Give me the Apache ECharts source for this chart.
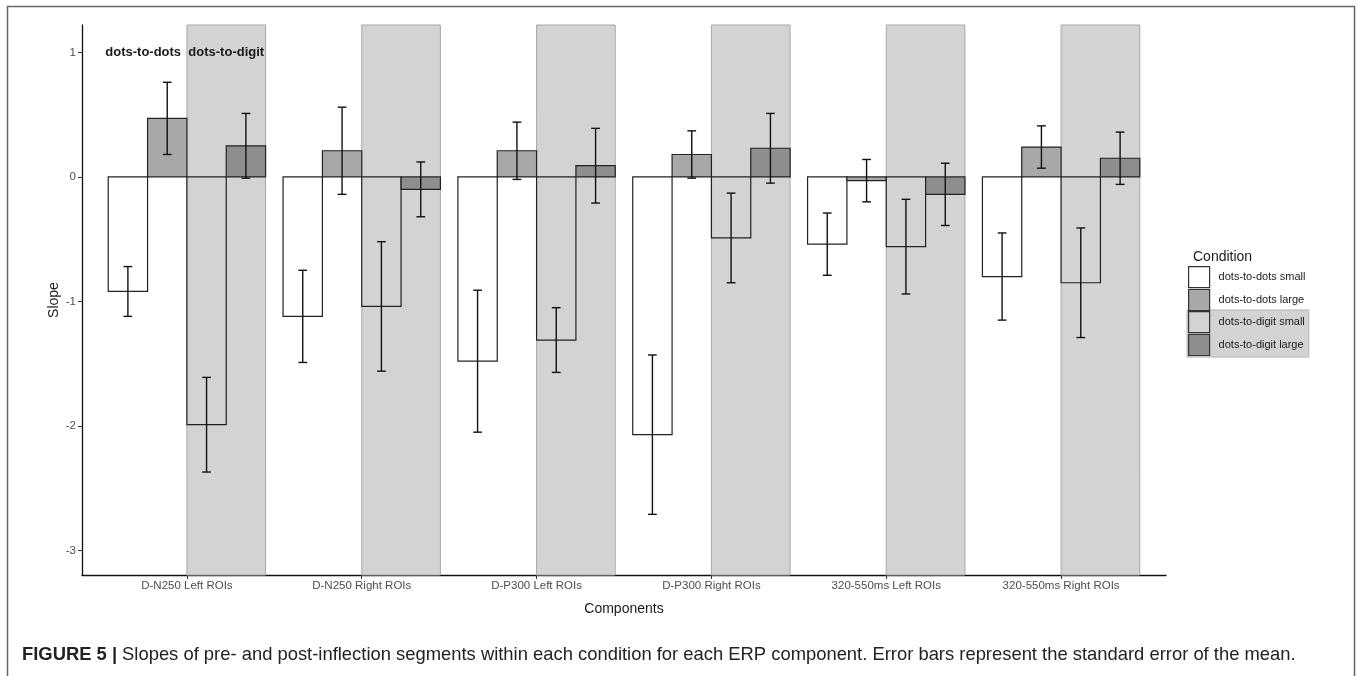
<!DOCTYPE html>
<html>
<head>
<meta charset="utf-8">
<script src="https://cdn.jsdelivr.net/npm/echarts@6/dist/echarts.min.js"></script>
<style>
html,body{margin:0;padding:0;background:#fff;}
#chart{width:1358px;height:676px;}
</style>
</head>
<body>
<div id="chart"></div>
<script>
// ---- data ----
const categories = ['D-N250 Left ROIs', 'D-N250 Right ROIs', 'D-P300 Left ROIs', 'D-P300 Right ROIs', '320-550ms Left ROIs', '320-550ms Right ROIs'];
const conditions = ['dots-to-dots small', 'dots-to-dots large', 'dots-to-digit small', 'dots-to-digit large'];
const ddSmall   = [-0.92, -1.12, -1.48, -2.07, -0.54, -0.80];
const ddSmallSE = [0.20, 0.37, 0.57, 0.64, 0.25, 0.35];
const ddLarge   = [0.47, 0.21, 0.21, 0.18, -0.03, 0.24];
const ddLargeSE = [0.29, 0.35, 0.23, 0.19, 0.17, 0.17];
const dgSmall   = [-1.99, -1.04, -1.31, -0.49, -0.56, -0.85];
const dgSmallSE = [0.38, 0.52, 0.26, 0.36, 0.38, 0.44];
const dgLarge   = [0.25, -0.10, 0.09, 0.23, -0.14, 0.15];
const dgLargeSE = [0.26, 0.22, 0.30, 0.28, 0.25, 0.21];
const yTicks = [-3, -2, -1, 0, 1];
const annotLabels = ['dots-to-dots', 'dots-to-digit'];
const annotX = [0.75, 1.225];
const annotY = [1, 1];

// ---- styles ----
const fills = ['#ffffff', '#a8a8a8', '#d3d3d3', '#8e8e8e'];
const valuesList = [ddSmall, ddLarge, dgSmall, dgLarge];
const seList = [ddSmallSE, ddLargeSE, dgSmallSE, dgLargeSE];
const dodge = 0.9, nCond = 4, barW = dodge / nCond;
const offsets = [0, 1, 2, 3].map(k => -dodge / 2 + barW * (k + 0.5));
const capW = 0.05;
const yMin = -3.197, yMax = 1.22;
const FONT = '"Liberation Sans", Arial, Helvetica, sans-serif';

const chart = echarts.init(document.getElementById('chart'), null, {renderer: 'canvas'});

const shadeSeries = {
  type: 'custom', name: 'shade', z: 1, silent: true,
  data: categories.map((c, i) => [i + 1]),
  encode: {x: 0},
  renderItem: function (params, api) {
    const xc = api.value(0);
    const p0 = api.coord([xc, yMax]);
    const p1 = api.coord([xc + dodge / 2, yMin]);
    return {
      type: 'rect',
      shape: {x: p0[0], y: p0[1], width: p1[0] - p0[0], height: p1[1] - p0[1]},
      style: {fill: '#d3d3d3', stroke: '#a9a9a9', lineWidth: 1}
    };
  }
};

const barSeries = conditions.map((name, k) => ({
  type: 'custom', name: name, z: 2 + k,
  itemStyle: {color: fills[k], borderColor: '#222', borderWidth: 1},
  data: categories.map((c, i) => [i + 1, valuesList[k][i], seList[k][i]]),
  encode: {x: 0, y: 1},
  renderItem: function (params, api) {
    const xc = api.value(0) + offsets[k];
    const v = api.value(1), se = api.value(2);
    const a = api.coord([xc - barW / 2, 0]);
    const b = api.coord([xc + barW / 2, v]);
    const top = api.coord([xc, v + se]);
    const bot = api.coord([xc, v - se]);
    const half = api.size([capW, 0])[0] / 2;
    const ls = {stroke: '#111', lineWidth: 1.4};
    return {
      type: 'group',
      children: [
        {type: 'rect', shape: {x: a[0], y: Math.min(a[1], b[1]), width: b[0] - a[0], height: Math.abs(b[1] - a[1])},
         style: {fill: fills[k], stroke: '#222', lineWidth: 1.2}},
        {type: 'line', shape: {x1: top[0], y1: top[1], x2: bot[0], y2: bot[1]}, style: ls},
        {type: 'line', shape: {x1: top[0] - half, y1: top[1], x2: top[0] + half, y2: top[1]}, style: ls},
        {type: 'line', shape: {x1: bot[0] - half, y1: bot[1], x2: bot[0] + half, y2: bot[1]}, style: ls}
      ]
    };
  }
}));

const annotSeries = {
  type: 'custom', name: 'annot', z: 10, silent: true,
  data: annotLabels.map((t, i) => [annotX[i], annotY[i], t]),
  encode: {x: 0, y: 1},
  renderItem: function (params, api) {
    const p = api.coord([api.value(0), api.value(1)]);
    return {
      type: 'text', x: p[0], y: p[1],
      style: {text: annotLabels[params.dataIndex], fill: '#1a1a1a', font: 'bold 13px ' + FONT, align: 'center', verticalAlign: 'middle'}
    };
  }
};

const legendItemStyle = {borderColor: '#333', borderWidth: 1.2};

const option = {
  backgroundColor: '#ffffff',
  animation: false,
  textStyle: {fontFamily: FONT},
  title: [
    {text: 'Condition', left: 1188, top: 245, textStyle: {fontSize: 14, fontWeight: 'normal', color: '#1a1a1a', fontFamily: FONT}},
    {
      text: '{b|FIGURE 5 |} {r|Slopes of pre- and post-inflection segments within each condition for each ERP component. Error bars represent the standard error of the mean.}',
      left: 17, top: 641,
      textStyle: {
        rich: {
          b: {fontFamily: FONT, fontWeight: 'bold', fontSize: 18.4, color: '#222'},
          r: {fontFamily: FONT, fontWeight: 'normal', fontSize: 18.4, color: '#222'}
        }
      }
    }
  ],
  legend: [
    {
      data: conditions.slice(0, 2).map(n => ({name: n, itemStyle: legendItemStyle})),
      orient: 'vertical', left: 1188, top: 266, padding: 0,
      itemWidth: 21, itemHeight: 21, itemGap: 0.7, icon: 'rect', selectedMode: false,
      textStyle: {fontSize: 11, color: '#1a1a1a', fontFamily: FONT, padding: [0, 0, 0, 4]}
    },
    {
      data: conditions.slice(2, 4).map(n => ({name: n, itemStyle: legendItemStyle})),
      orient: 'vertical', left: 1187, top: 310, padding: [1, 4, 1, 1],
      backgroundColor: '#d3d3d3', borderColor: '#b5b5b5', borderWidth: 1,
      itemWidth: 21, itemHeight: 21, itemGap: 0.7, icon: 'rect', selectedMode: false,
      textStyle: {fontSize: 11, color: '#1a1a1a', fontFamily: FONT, padding: [0, 0, 0, 4]}
    }
  ],
  grid: {left: 82, right: 192, top: 25, bottom: 101, containLabel: false},
  xAxis: {
    type: 'value', min: 0.4, max: 6.6,
    name: 'Components', nameLocation: 'middle', nameGap: 27,
    nameTextStyle: {fontSize: 14, color: '#1a1a1a', fontFamily: FONT},
    splitLine: {show: false},
    axisLine: {show: true, onZero: false, lineStyle: {color: '#111', width: 1.3}},
    axisTick: {show: true, length: 4, customValues: categories.map((c, i) => i + 1), lineStyle: {color: '#333'}},
    axisLabel: {
      customValues: categories.map((c, i) => i + 1), margin: 5,
      fontSize: 11.5, color: '#4d4d4d', fontFamily: FONT,
      formatter: v => categories[Math.round(v) - 1] || ''
    }
  },
  yAxis: {
    type: 'value', min: yMin, max: yMax,
    name: 'Slope', nameLocation: 'middle', nameGap: 21, nameRotate: 90, nameMoveOverlap: false,
    nameTextStyle: {fontSize: 14, color: '#1a1a1a', fontFamily: FONT},
    splitLine: {show: false},
    axisLine: {show: true, onZero: false, lineStyle: {color: '#111', width: 1.3}},
    axisTick: {show: true, length: 4, customValues: yTicks, lineStyle: {color: '#333'}},
    axisLabel: {customValues: yTicks, margin: 6, fontSize: 11.5, color: '#4d4d4d', fontFamily: FONT}
  },
  graphic: [
    {type: 'rect', shape: {x: 7.5, y: 6.5, width: 1347, height: 700}, style: {fill: 'none', stroke: '#666', lineWidth: 1.5}, silent: true, z: 100}
  ],
  series: [shadeSeries].concat(barSeries).concat([annotSeries])
};
chart.setOption(option);
</script>
</body>
</html>
